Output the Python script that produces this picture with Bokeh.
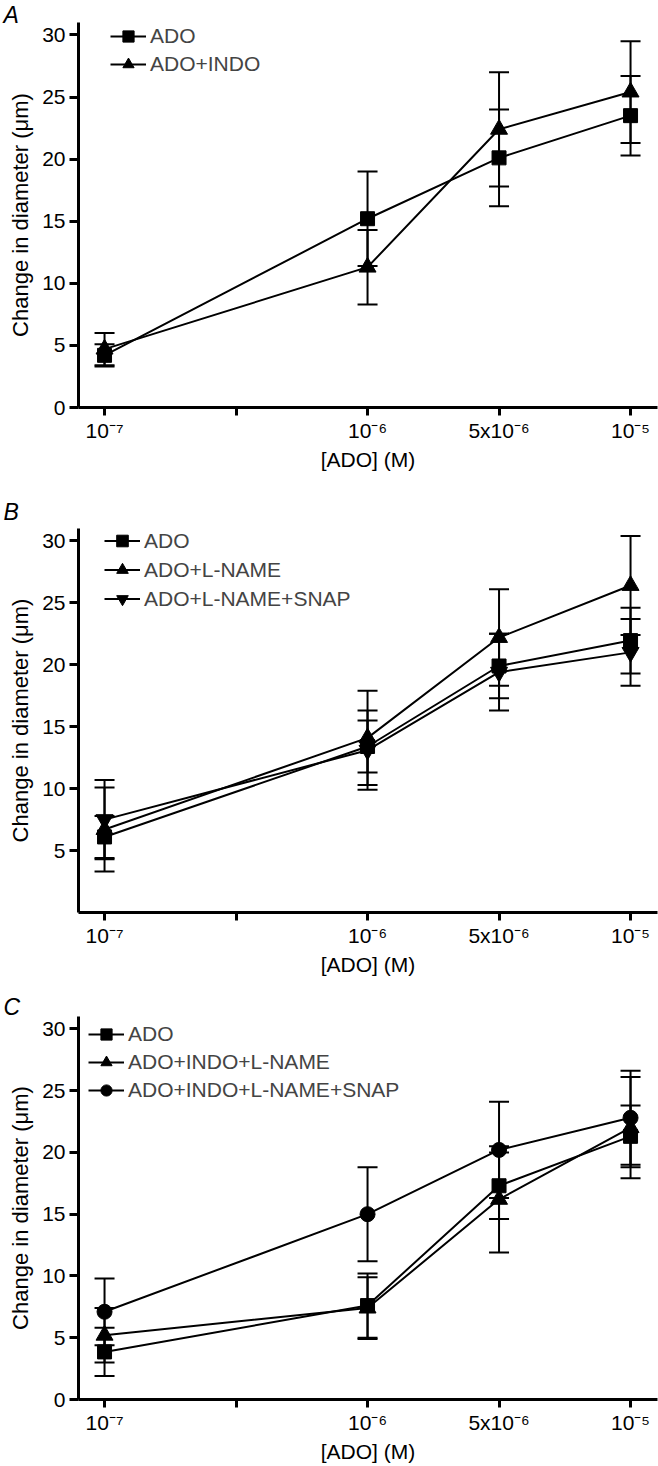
from bokeh.plotting import figure
from bokeh.models import (ColumnDataSource, Whisker, TeeHead, FixedTicker, Legend,
                          LegendItem, Label, Range1d)
from bokeh.layouts import column
from bokeh.embed import file_html
from bokeh.resources import INLINE

# ---- data ----
tick_positions = [0, 1, 2, 3, 4]
tick_labels = ["10\u207b\u2077", "", "10\u207b\u2076", "5x10\u207b\u2076", "10\u207b\u2075"]
dose_pos = [0, 2, 3, 4]   # 1e-7, 1e-6, 5e-6, 1e-5

# Panel A
a_ado = [4.2, 15.2, 20.1, 23.5]
a_ado_err = [0.9, 3.8, 3.9, 3.2]
a_indo = [4.7, 11.3, 22.4, 25.4]
a_indo_err = [1.3, 3.0, 4.6, 4.1]

# Panel B
b_ado = [6.1, 13.4, 19.9, 21.95]
b_ado_err = [1.7, 2.1, 2.6, 2.65]
b_lname = [6.7, 14.1, 22.2, 26.4]
b_lname_err = [3.4, 3.8, 3.9, 4.0]
b_snap = [7.5, 13.1, 19.4, 21.0]
b_snap_err = [3.2, 3.2, 3.1, 2.7]

# Panel C
c_ado = [3.85, 7.6, 17.3, 21.3]
c_ado_err = [1.95, 2.6, 2.7, 2.5]
c_lname = [5.2, 7.4, 16.2, 22.0]
c_lname_err = [2.2, 2.5, 4.3, 4.1]
c_snap = [7.1, 15.0, 20.2, 22.8]
c_snap_err = [2.7, 3.8, 3.9, 3.8]

FONT = "Liberation Sans"
MSIZE = {"square": 14, "triangle": 17, "inverted_triangle": 17, "circle": 15}


def make_panel(letter, series, y_ticks, height, top, bottom,
               legend_xy, row_h, letter_side, letter_xy):
    p = figure(width=658, height=height, output_backend="svg", toolbar_location=None,
               x_range=Range1d(-0.198, 4.205), y_range=Range1d(0, 31),
               min_border_left=78, min_border_right=1, min_border_top=top,
               min_border_bottom=bottom)
    p.outline_line_color = None
    p.grid.visible = False
    p.background_fill_color = "white"

    items = []
    for label, vals, errs, marker in series:
        src = ColumnDataSource(dict(
            x=dose_pos, y=vals,
            upper=[v + e for v, e in zip(vals, errs)],
            lower=[v - e for v, e in zip(vals, errs)]))
        w = Whisker(source=src, base="x", upper="upper", lower="lower",
                    line_color="black", line_width=2,
                    upper_head=TeeHead(size=20, line_width=2, line_color="black"),
                    lower_head=TeeHead(size=20, line_width=2, line_color="black"))
        p.add_layout(w)
        lr = p.line("x", "y", source=src, line_color="black", line_width=2)
        sr = p.scatter("x", "y", source=src, marker=marker, size=MSIZE[marker],
                       fill_color="black", line_color="black")
        items.append(LegendItem(label=label, renderers=[lr, sr]))

    leg = Legend(items=items, location=legend_xy, glyph_width=36, glyph_height=row_h,
                 label_height=row_h, spacing=0, padding=0, margin=0,
                 label_standoff=4, border_line_color=None, background_fill_alpha=0,
                 label_text_font=FONT, label_text_font_size="21px")
    p.add_layout(leg)

    for ax in (p.xaxis, p.yaxis):
        ax.axis_line_width = 3
        ax.major_tick_line_width = 3
        ax.major_tick_in = 0
        ax.minor_tick_line_color = None
        ax.major_label_text_font = FONT
        ax.major_label_text_font_size = "21px"
        ax.major_label_text_color = "black"
        ax.axis_label_text_font = FONT
        ax.axis_label_text_font_style = "normal"
        ax.axis_label_text_color = "black"
    p.xaxis.major_tick_out = 8
    p.yaxis.major_tick_out = 9
    p.xaxis.ticker = FixedTicker(ticks=tick_positions)
    p.xaxis.major_label_overrides = dict(zip(tick_positions, tick_labels))
    p.yaxis.ticker = FixedTicker(ticks=y_ticks)
    p.xaxis.axis_label = "[ADO] (M)"
    p.yaxis.axis_label = "Change in diameter (\u03bcm)"
    p.xaxis.axis_label_text_font_size = "21px"
    p.yaxis.axis_label_text_font_size = "22px"
    p.xaxis.major_label_standoff = 3
    p.yaxis.major_label_standoff = 4
    p.xaxis.axis_label_standoff = 3
    p.yaxis.axis_label_standoff = 6

    p.add_layout(Label(x=letter_xy[0], y=letter_xy[1], x_units="screen", y_units="screen",
                       text=letter, text_font=FONT, text_font_size="23px",
                       text_font_style="italic", text_baseline="alphabetic",
                       text_color="black"), letter_side)
    return p


pA = make_panel("A",
                [("ADO", a_ado, a_ado_err, "square"),
                 ("ADO+INDO", a_indo, a_indo_err, "triangle")],
                [0, 5, 10, 15, 20, 25, 30], 500, 22, 93,
                (32, 329), 28, "below", (-75, 485))
pB = make_panel("B",
                [("ADO", b_ado, b_ado_err, "square"),
                 ("ADO+L-NAME", b_lname, b_lname_err, "triangle"),
                 ("ADO+L-NAME+SNAP", b_snap, b_snap_err, "inverted_triangle")],
                [5, 10, 15, 20, 25, 30], 478, 28, 64,
                (26, 299), 29, "above", (-75, 17))
pC = make_panel("C",
                [("ADO", c_ado, c_ado_err, "square"),
                 ("ADO+INDO+L-NAME", c_lname, c_lname_err, "triangle"),
                 ("ADO+INDO+L-NAME+SNAP", c_snap, c_snap_err, "circle")],
                [0, 5, 10, 15, 20, 25, 30], 488, 38, 67,
                (10, 295), 28, "above", (-75, 10))

layout = column(pA, pB, pC, spacing=0)
open("out.html", "w").write(file_html(layout, INLINE))
